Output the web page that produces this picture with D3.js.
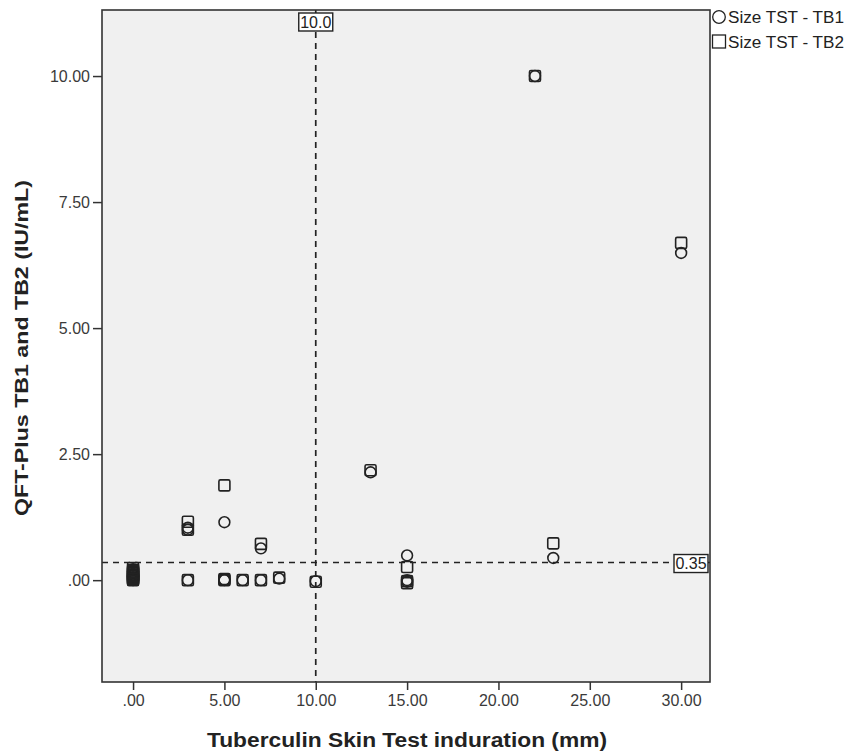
<!DOCTYPE html>
<html><head><meta charset="utf-8">
<script src="https://cdn.jsdelivr.net/npm/d3@7"></script>
<style>body{margin:0;background:#fff;} svg{display:block;}</style>
</head><body>
<script>
// Data: one entry per subject
const tst = [0,0,0,0,0,0,0,0,0,0, 3,3,3, 5,5,5, 6, 7,7, 8, 10, 13, 15,15,15, 22, 23, 30];
const tb1 = [0,0.02,0.04,0.06,0.09,0.11,0.13,0.16,0.19,0.22, 1.0,1.04,0, 1.15,0,0.01, 0, 0.63,0, 0.03, -0.02, 2.14, 0.49,0,-0.03, 10.0, 0.44, 6.49];
const tb2 = [0,0.01,0.03,0.05,0.08,0.1,0.14,0.17,0.2,0.24, 1.16,1.0,0, 1.88,0,0.02, 0, 0.72,0, 0.05, -0.03, 2.18, 0.26,-0.02,-0.06, 10.0, 0.73, 6.69];
const xTicks = [0,5,10,15,20,25,30];
const yTicks = [0,2.5,5,7.5,10];
const refX = 10.0, refY = 0.35;
const legendLabels = ["Size TST - TB1","Size TST - TB2"];

const W = 847, H = 756;
const L = 102, R = 710, T = 10, B = 682;
const svg = d3.select("body").append("svg").attr("width",W).attr("height",H);
const x = d3.scaleLinear().domain([-1.70,31.58]).range([L,R]);
const y = d3.scaleLinear().domain([-2.02,11.31]).range([B,T]);

svg.append("rect").attr("x",L).attr("y",T).attr("width",R-L).attr("height",B-T)
  .attr("fill","#f0f0f0").attr("stroke","none");

const font = "Arial, 'Liberation Sans', sans-serif";
const fmt = d => d===0 ? ".00" : d3.format(".2f")(d);
const xAxis = svg.append("g").attr("transform",`translate(0,${B})`)
  .call(d3.axisBottom(x).tickValues(xTicks).tickSize(8).tickPadding(5).tickFormat(fmt));
const yAxis = svg.append("g").attr("transform",`translate(${L},0)`)
  .call(d3.axisLeft(y).tickValues(yTicks).tickSize(9).tickPadding(3).tickFormat(fmt));
[xAxis,yAxis].forEach(g=>{
  g.select(".domain").remove();
  g.selectAll("line").attr("stroke","#333").attr("stroke-width",1.5);
  g.selectAll("text").attr("font-family",font).attr("font-size",16).attr("fill","#3a3a3a");
});

// reference lines
svg.append("line").attr("x1",x(refX)).attr("x2",x(refX)).attr("y1",T).attr("y2",B)
  .attr("stroke","#222").attr("stroke-width",1.7).attr("stroke-dasharray","6,5");
svg.append("line").attr("x1",L).attr("x2",R).attr("y1",y(refY)).attr("y2",y(refY))
  .attr("stroke","#222").attr("stroke-width",1.7).attr("stroke-dasharray","6,5");

// markers
const pts = svg.append("g");
tst.forEach((t,i)=>{
  pts.append("circle").attr("cx",x(t)).attr("cy",y(tb1[i])).attr("r",5.4)
    .attr("fill","none").attr("stroke","#222").attr("stroke-width",1.6);
  pts.append("rect").attr("x",x(t)-5.5).attr("y",y(tb2[i])-5.5).attr("width",11).attr("height",11)
    .attr("rx",1.5).attr("fill","none").attr("stroke","#222").attr("stroke-width",1.6);
});

// frame
svg.append("rect").attr("x",L).attr("y",T).attr("width",R-L).attr("height",B-T)
  .attr("fill","none").attr("stroke","#333").attr("stroke-width",1.6);

// reference labels
function boxLabel(cx, cy, txt){
  const g = svg.append("g");
  g.append("text").attr("x",cx).attr("y",cy).attr("text-anchor","middle")
    .attr("dominant-baseline","central").attr("font-family",font).attr("font-size",16)
    .attr("fill","#222").text(txt);
  g.insert("rect","text").attr("x",cx-17).attr("y",cy-9).attr("width",34).attr("height",18)
    .attr("fill","#fff").attr("stroke","#222").attr("stroke-width",1.4);
}
boxLabel(x(refX), 22, "10.0");
boxLabel(691, y(refY)+1, "0.35");

// legend
svg.append("circle").attr("cx",719).attr("cy",17).attr("r",6.3)
  .attr("fill","none").attr("stroke","#222").attr("stroke-width",1.3);
svg.append("rect").attr("x",712.5).attr("y",35).attr("width",13).attr("height",13)
  .attr("fill","none").attr("stroke","#222").attr("stroke-width",1.3);
legendLabels.forEach((l,i)=>{
  svg.append("text").attr("x",728).attr("y",17+i*25).attr("dominant-baseline","central")
    .attr("font-family",font).attr("font-size",16).attr("fill","#222")
    .attr("textLength",116).attr("lengthAdjust","spacingAndGlyphs").text(l);
});

// axis titles
svg.append("text").attr("x",407).attr("y",747).attr("text-anchor","middle")
  .attr("font-family",font).attr("font-weight","bold").attr("font-size",20).attr("fill","#222")
  .attr("textLength",400).attr("lengthAdjust","spacingAndGlyphs")
  .text("Tuberculin Skin Test induration (mm)");
svg.append("text").attr("transform",`translate(28,348) rotate(-90)`).attr("text-anchor","middle")
  .attr("font-family",font).attr("font-weight","bold").attr("font-size",19).attr("fill","#222")
  .attr("textLength",336).attr("lengthAdjust","spacingAndGlyphs")
  .text("QFT-Plus TB1 and TB2 (IU/mL)");
</script>
</body></html>
